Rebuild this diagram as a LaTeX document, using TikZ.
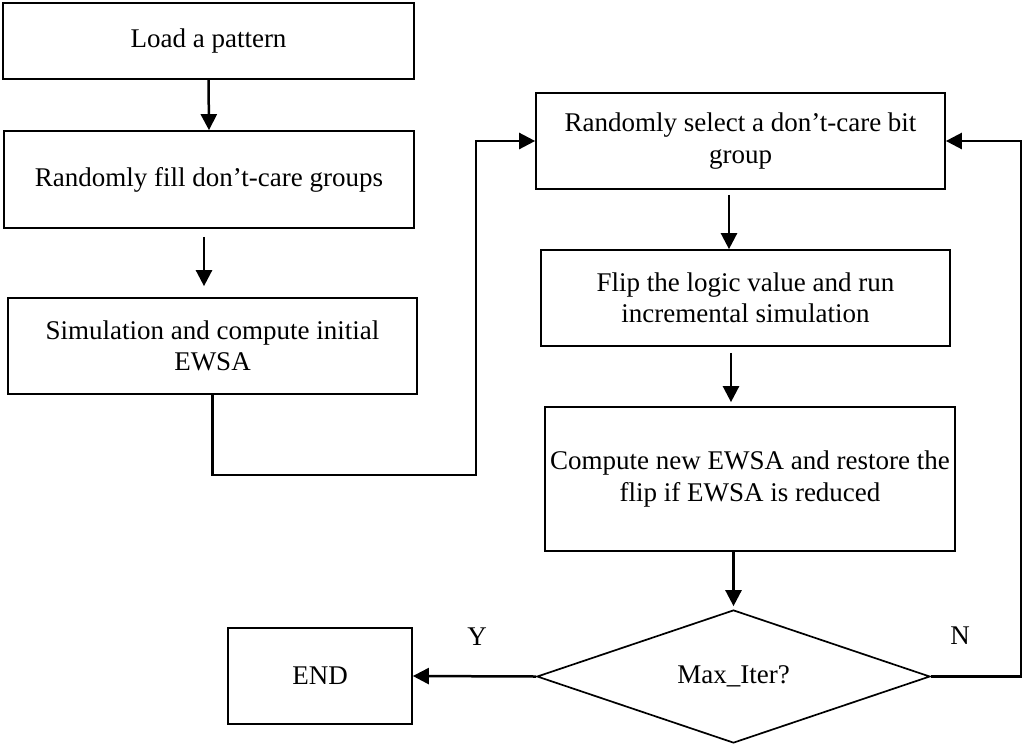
\documentclass[tikz,border=0pt]{standalone}
\usepackage{fontspec}
\setmainfont{Liberation Serif}
\usetikzlibrary{arrows.meta,shapes.geometric}
\begin{document}
\begin{tikzpicture}[x=1pt,y=-1pt,
  font=\fontsize{27}{31.5}\selectfont,
  box/.style={draw,line width=1.7pt,inner sep=0pt,align=center},
  decision/.style={draw,diamond,line width=1.7pt,inner sep=0pt,shape aspect=3,
    minimum width=393pt,minimum height=133pt},
  arr/.style={line width=2.5pt,-{Triangle[length=16pt,width=16pt]}},
  lbl/.style={inner sep=0pt}]
\useasboundingbox (0,0) rectangle (1024,747);

% left column
\node[box,minimum width=411pt,minimum height=76pt] (load) at (208.5,41) {Load a pattern};
\node[box,minimum width=410pt,minimum height=97pt] (fill) at (209,179.5) {Randomly fill don’t-care groups};
\node[box,minimum width=409pt,minimum height=96pt] (sim) at (212.5,346) {Simulation and compute initial\\EWSA};

% right column
\node[box,minimum width=409pt,minimum height=96pt] (sel) at (740.5,141) {Randomly select a don’t-care bit\\group};
\node[box,minimum width=409pt,minimum height=96pt] (flip) at (745.5,298) {Flip the logic value and run\\incremental simulation};
\node[box,minimum width=410pt,minimum height=144pt] (comp) at (750,479) {Compute new EWSA and restore the\\flip if EWSA is reduced};
\node[decision] (dec) at (733.5,676.5) {Max\_Iter?};
\node[box,minimum width=184pt,minimum height=96pt] (end) at (320,676) {END};

% branch labels
\node[lbl] (ylab) at (477,637) {Y};
\node[lbl] (nlab) at (960,636) {N};

% routing points
\coordinate (jog) at (476,475);
\coordinate (rx) at (1021,676.5);

% connectors
\draw[arr] (load.south) -- (fill.north);
\draw[arr,shorten <=8pt,shorten >=11pt] ([xshift=-5pt]fill.south) -- ([xshift=-5pt]fill.south |- sim.north);
\draw[arr] (sim.south) |- (jog) |- (sel.west);
\draw[arr,shorten <=5pt] ([xshift=-11.5pt]sel.south) -- ([xshift=-11.5pt]sel.south |- flip.north);
\draw[arr,shorten <=6pt,shorten >=4pt] ([xshift=-14.5pt]flip.south) -- ([xshift=-14.5pt]flip.south |- comp.north);
\draw[arr,shorten >=3pt] (comp.south -| dec.north) -- (dec.north);
\draw[arr] (dec.west) -- (end.east);
\draw[arr] (dec.east) -- (rx) |- (sel.east);
\end{tikzpicture}
\end{document}
